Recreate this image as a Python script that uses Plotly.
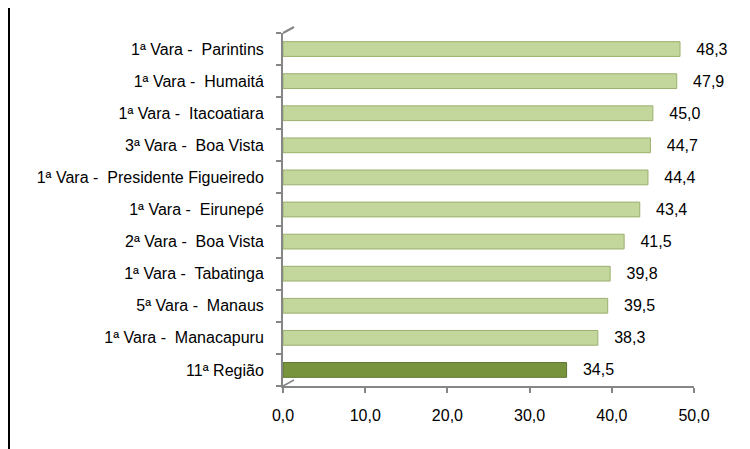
import plotly.graph_objects as go

categories = [
    "1ª Vara -  Parintins",
    "1ª Vara -  Humaitá",
    "1ª Vara -  Itacoatiara",
    "3ª Vara -  Boa Vista",
    "1ª Vara -  Presidente Figueiredo",
    "1ª Vara -  Eirunepé",
    "2ª Vara -  Boa Vista",
    "1ª Vara -  Tabatinga",
    "5ª Vara -  Manaus",
    "1ª Vara -  Manacapuru",
    "11ª Região",
]
values = [48.3, 47.9, 45.0, 44.7, 44.4, 43.4, 41.5, 39.8, 39.5, 38.3, 34.5]
tick_values = [0, 10, 20, 30, 40, 50]

light = "#C3D69B"
dark = "#77933C"
colors = [dark if c == "11ª Região" else light for c in categories]
edges = ["#5E7530" if c == "11ª Região" else "#9BB06E" for c in categories]

W, H = 742, 441
L, R, T, B = 275, 56, 25, 63
PW, PH = W - L - R, H - T - B

fig = go.Figure(go.Bar(
    y=categories,
    x=values,
    orientation="h",
    marker=dict(color=colors, line=dict(color=edges, width=1)),
    texttemplate="   %{x:.1f}",
    textposition="outside",
    constraintext="none",
    textfont=dict(family="Liberation Sans, Arial", size=16, color="#000000"),
    cliponaxis=False,
    width=0.46,
))

axis_col = "#868686"
fig.update_layout(
    width=W, height=H,
    margin=dict(l=L, r=R, t=T, b=B),
    paper_bgcolor="white",
    plot_bgcolor="white",
    separators=",.",
    showlegend=False,
    font=dict(family="Liberation Sans, Arial", size=16, color="#000000"),
    xaxis=dict(
        range=[0, 50],
        tickvals=tick_values,
        tickformat=".1f",
        showgrid=False,
        zeroline=False,
        showline=True,
        linecolor=axis_col,
        linewidth=2,
        ticks="outside",
        tickcolor=axis_col,
        ticklen=5,
        tickwidth=2,
        ticklabelstandoff=9,
    ),
    yaxis=dict(
        categoryorder="array",
        categoryarray=categories[::-1],
        showgrid=False,
        showline=True,
        linecolor=axis_col,
        linewidth=2,
        ticks="outside",
        tickson="boundaries",
        tickcolor=axis_col,
        ticklen=5,
        tickwidth=2,
        ticklabelstandoff=14,
    ),
    shapes=[
        dict(type="line", xref="paper", yref="paper",
             x0=(-L + 1) / PW, x1=(-L + 1) / PW, y0=-B / PH, y1=1 + T / PH,
             line=dict(color="black", width=2)),
        dict(type="line", xref="paper", yref="paper",
             x0=0, x1=11 / PW, y0=1, y1=1 + 6 / PH,
             line=dict(color=axis_col, width=2)),
        dict(type="line", xref="paper", yref="paper",
             x0=0, x1=11 / PW, y0=0, y1=6 / PH,
             line=dict(color=axis_col, width=1.5)),
    ],
)

fig.write_html("out.html")
